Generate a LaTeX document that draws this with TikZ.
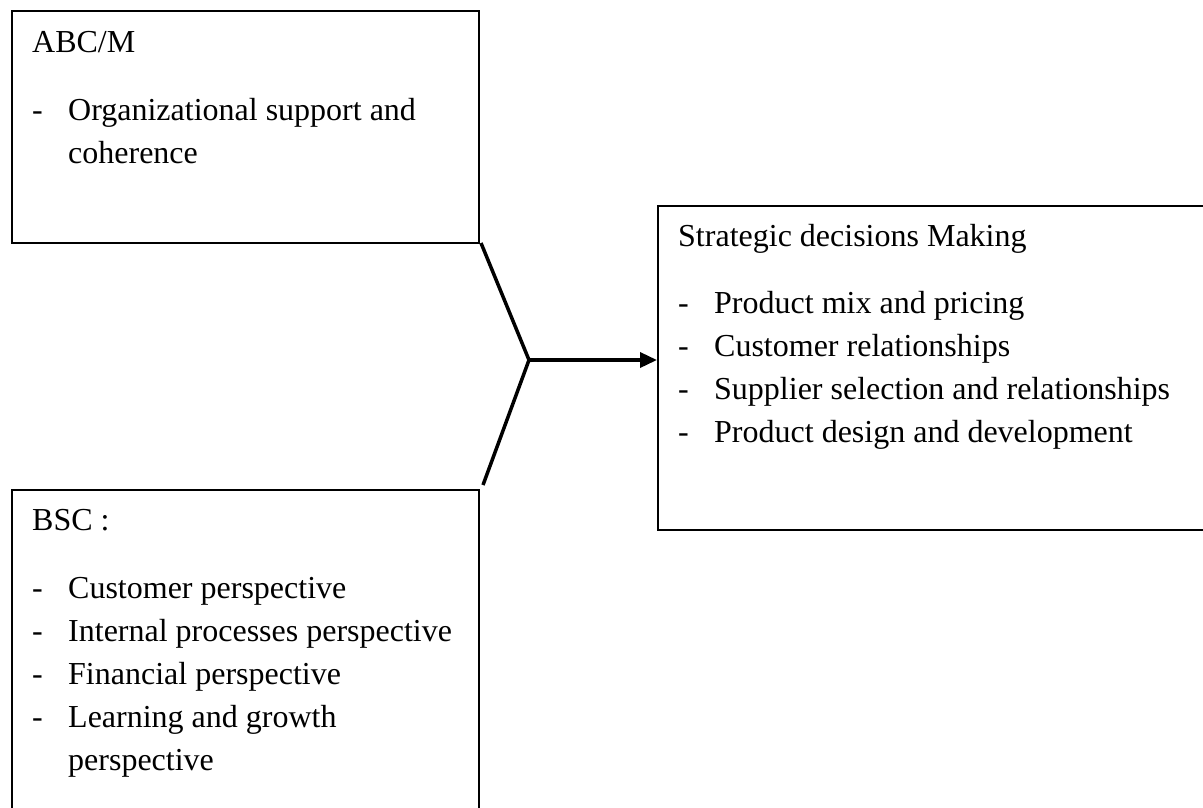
\documentclass[tikz,border=0pt]{standalone}
\usepackage{fontspec}
\setmainfont{Liberation Serif}
\usetikzlibrary{arrows.meta}
\begin{document}
\begin{tikzpicture}[x=1pt,y=-1pt,
  box/.style={draw, line width=1.5pt, anchor=north west, inner sep=0pt},
  txt/.style={anchor=base west, inner sep=0pt, font=\fontsize{32}{40}\selectfont},
  link/.style={line width=3.5pt},
]
\useasboundingbox (0,0) rectangle (1203,807);
\clip (0,0) rectangle (1203,807);

% the three boxes
\node[box, minimum width=467pt, minimum height=232pt] (abc) at (11,10) {};
\node[box, minimum width=560pt, minimum height=324pt] (sdm) at (657,205) {};
\node[box, minimum width=467pt, minimum height=340pt] (bsc) at (11,489) {};

% ABC/M
\node[txt] (abct) at (32,52) {ABC/M};
\node[txt] (abcd1) at (32,120) {-};
\node[txt] (abci1) at (68,120) {Organizational support and};
\node[txt] (abci1b) at (68,163) {coherence};

% strategic decisions
\node[txt] (sdmt) at (678,246) {Strategic decisions Making};
\node[txt] (sdmd1) at (678,313) {-};
\node[txt] (sdmi1) at (714,313) {Product mix and pricing};
\node[txt] (sdmd2) at (678,356) {-};
\node[txt] (sdmi2) at (714,356) {Customer relationships};
\node[txt] (sdmd3) at (678,399) {-};
\node[txt] (sdmi3) at (714,399) {Supplier selection and relationships};
\node[txt] (sdmd4) at (678,442) {-};
\node[txt] (sdmi4) at (714,442) {Product design and development};

% BSC
\node[txt] (bsct) at (32,530) {BSC :};
\node[txt] (bscd1) at (32,598) {-};
\node[txt] (bsci1) at (68,598) {Customer perspective};
\node[txt] (bscd2) at (32,641) {-};
\node[txt] (bsci2) at (68,641) {Internal processes perspective};
\node[txt] (bscd3) at (32,684) {-};
\node[txt] (bsci3) at (68,684) {Financial perspective};
\node[txt] (bscd4) at (32,727) {-};
\node[txt] (bsci4) at (68,727) {Learning and growth};
\node[txt] (bsci4b) at (68,770) {perspective};

% connectors joining at one point and leading to the decisions box
\coordinate (top) at (481,243);
\coordinate (join) at (529,360);
\coordinate (bot) at (483,485);
\draw[link, line join=miter] (top) -- (join) -- (bot);
\draw[link, -{Triangle[length=17pt,width=15pt]}] (join) -- (sdm.west |- join);
\end{tikzpicture}
\end{document}
